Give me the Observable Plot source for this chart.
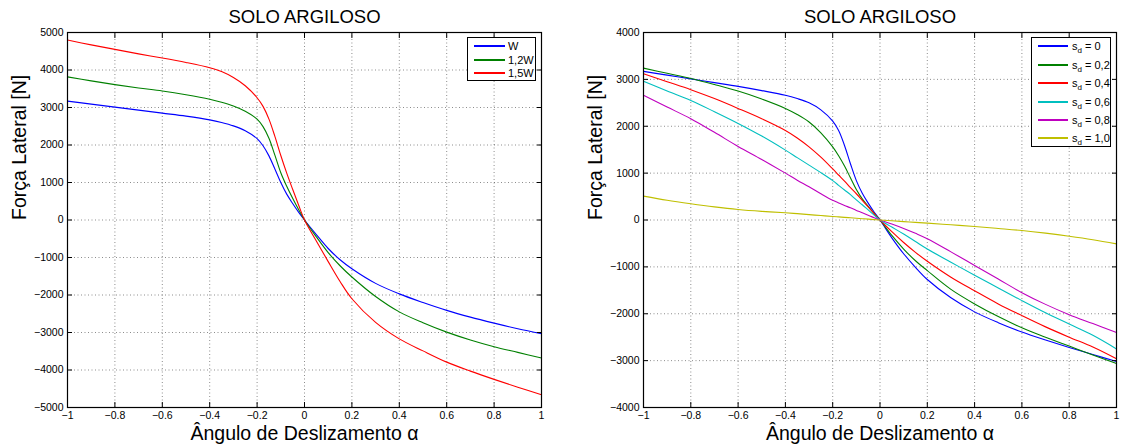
<!DOCTYPE html>
<html>
<head>
<meta charset="utf-8">
<script src="https://cdn.jsdelivr.net/npm/d3@7"></script>
<script src="https://cdn.jsdelivr.net/npm/@observablehq/plot@0.6"></script>
<style>
  body { margin: 0; background: #fff; font-family: "Liberation Sans", Arial, sans-serif; }
  #wrap { position: relative; width: 1121px; height: 448px; overflow: hidden; background: #fff; }
  .panel { position: absolute; top: 0; }
  .legend { position: absolute; border: 1.5px solid #000; background: #fff; box-sizing: border-box;
            font-family: "Liberation Sans", Arial, sans-serif; font-size: 11px; color: #000; }
  .legend .row { position: absolute; left: 0; right: 0; height: 0; }
  .legend .sw { position: absolute; height: 1.5px; top: -1px; }
  .legend .lab { position: absolute; line-height: 12px; top: -6px; white-space: nowrap; }
  .legend sub { font-size: 8px; vertical-align: -3px; line-height: 0; }
</style>
</head>
<body>
<div id="wrap"></div>
<script>
// ---------- data ----------
const alpha = [-1, -0.9, -0.8, -0.7, -0.6, -0.5, -0.4, -0.35, -0.3, -0.25, -0.2, -0.175, -0.15, -0.125,
               -0.1, -0.075, -0.05, -0.025, 0, 0.05, 0.1, 0.15, 0.2, 0.3, 0.4, 0.5, 0.6, 0.7, 0.8, 0.9, 1];

// left panel: load variation
const loadNames = ["W", "1,2W", "1,5W"];
const loadColors = ["#0000ff", "#008000", "#ff0000"];
const forceW   = [3170, 3090, 3010, 2930, 2850, 2770, 2670, 2600, 2510, 2380, 2170, 1980, 1710, 1360,
                  1000, 690, 440, 210, 0, -390, -760, -1060, -1300, -1690, -1970, -2200, -2410, -2590, -2750, -2900, -3030];
const force12W = [3816, 3710, 3610, 3520, 3440, 3340, 3220, 3140, 3040, 2900, 2690, 2490, 2180, 1730,
                  1260, 900, 580, 280, 0, -450, -870, -1220, -1520, -2040, -2450, -2740, -2990, -3200, -3380, -3530, -3680];
const force15W = [4800, 4670, 4550, 4430, 4320, 4200, 4060, 3960, 3800, 3580, 3260, 3030, 2690, 2230,
                  1720, 1250, 820, 400, 0, -560, -1110, -1640, -2100, -2730, -3170, -3490, -3790, -4030, -4250, -4460, -4660];

// right panel: s_d variation
const sdNames = ["0", "0,2", "0,4", "0,6", "0,8", "1,0"];
const sdColors = ["#0000ff", "#008000", "#ff0000", "#00bfbf", "#bf00bf", "#bfbf00"];
const sd00 = [3170, 3090, 3010, 2930, 2850, 2760, 2660, 2590, 2500, 2350, 2110, 1910, 1590, 1200,
              840, 570, 360, 170, 0, -380, -720, -1010, -1270, -1660, -1960, -2190, -2390, -2560, -2720, -2870, -3020];
const sd02 = [3240, 3130, 3020, 2890, 2750, 2580, 2380, 2250, 2090, 1860, 1560, 1370, 1150, 900,
              650, 450, 290, 140, 0, -330, -620, -870, -1080, -1480, -1790, -2060, -2300, -2500, -2690, -2880, -3060];
const sd04 = [3120, 2950, 2780, 2590, 2380, 2160, 1910, 1750, 1560, 1340, 1090, 960, 830, 690,
              560, 420, 280, 140, 0, -250, -480, -690, -880, -1220, -1510, -1790, -2040, -2280, -2500, -2710, -2960];
const sd06 = [2960, 2750, 2550, 2310, 2060, 1790, 1490, 1330, 1170, 1010, 840, 740, 640, 540,
              430, 325, 215, 105, 0, -150, -300, -460, -620, -900, -1180, -1450, -1720, -1980, -2220, -2460, -2750];
const sd08 = [2660, 2410, 2160, 1870, 1570, 1290, 1000, 850, 710, 560, 420, 365, 310, 260,
              205, 155, 100, 50, 0, -85, -180, -285, -400, -680, -970, -1260, -1550, -1800, -2020, -2210, -2400];
const sd10 = [510, 420, 346, 280, 225, 185, 154, 135, 115, 95, 75, 66, 56, 47,
              38, 28, 19, 9, 0, -17, -34, -50, -67, -102, -138, -180, -224, -280, -345, -420, -510];

const xTicks = [-1, -0.8, -0.6, -0.4, -0.2, 0, 0.2, 0.4, 0.6, 0.8, 1];
const yTicksL = [-5000, -4000, -3000, -2000, -1000, 0, 1000, 2000, 3000, 4000, 5000];
const yTicksR = [-4000, -3000, -2000, -1000, 0, 1000, 2000, 3000, 4000];

const titleText = "SOLO ARGILOSO";
const xLabel = "Ângulo de Deslizamento α";
const yLabel = "Força Lateral [N]";

// ---------- drawing ----------
const fmt = d3.format("");
const font = "Liberation Sans, Arial, sans-serif";

function panel({names, colors, series, yDomain, yTicks, width, marginLeft, marginRight}) {
  const rows = series.flatMap((vals, k) => alpha.map((a, i) => ({a, f: vals[i], s: names[k]})));
  const grid = {stroke: "#000", strokeOpacity: 0.45, strokeDasharray: "1,2.5", strokeWidth: 1};
  return Plot.plot({
    width, height: 448,
    marginLeft, marginRight, marginTop: 32, marginBottom: 41,
    x: {domain: [-1, 1], label: null},
    y: {domain: yDomain, label: null},
    color: {domain: names, range: colors},
    style: {fontFamily: font, fontSize: "10.5px", color: "#000", background: "#fff", overflow: "visible"},
    marks: [
      Plot.gridX(xTicks, grid),
      Plot.gridY(yTicks, grid),
      Plot.line(rows, {x: "a", y: "f", z: "s", stroke: "s", curve: "catmull-rom", strokeWidth: 1.1}),
      Plot.axisX(xTicks, {anchor: "bottom", tickSize: -5, tickPadding: 9, tickFormat: fmt, label: null}),
      Plot.axisX(xTicks, {anchor: "top", tickSize: -5, tickFormat: () => "", label: null}),
      Plot.axisY(yTicks, {anchor: "left", tickSize: -5, tickPadding: 9, tickFormat: fmt, label: null}),
      Plot.axisY(yTicks, {anchor: "right", tickSize: -5, tickFormat: () => "", label: null}),
      Plot.frame({stroke: "#000", strokeWidth: 1.2}),
      Plot.text([titleText], {frameAnchor: "top", dy: -10, lineAnchor: "bottom", fontSize: 18.5, fill: "#000"}),
      Plot.text([xLabel], {frameAnchor: "bottom", dy: 32, lineAnchor: "bottom", fontSize: 19.5, fill: "#000"}),
      Plot.text([yLabel], {frameAnchor: "left", dx: -48, rotate: -90, lineAnchor: "middle", fontSize: 19.5, fill: "#000"})
    ]
  });
}

function legend(parent, {left, top, width, height, names, colors, rowTops, swLeft, swWidth, labLeft, sub}) {
  const box = document.createElement("div");
  box.className = "legend";
  Object.assign(box.style, {left: left + "px", top: top + "px", width: width + "px", height: height + "px"});
  names.forEach((n, i) => {
    const row = document.createElement("div");
    row.className = "row";
    row.style.top = rowTops[i] + "px";
    const sw = document.createElement("div");
    sw.className = "sw";
    sw.style.left = swLeft + "px";
    sw.style.width = swWidth + "px";
    sw.style.backgroundColor = colors[i];
    const lab = document.createElement("div");
    lab.className = "lab";
    lab.style.left = labLeft + "px";
    if (sub) lab.innerHTML = "s<sub>d</sub> = " + n; else lab.textContent = n;
    row.appendChild(sw); row.appendChild(lab);
    box.appendChild(row);
  });
  parent.appendChild(box);
}

const wrap = document.getElementById("wrap");

const left = panel({names: loadNames, colors: loadColors, series: [forceW, force12W, force15W],
  yDomain: [-5000, 5000], yTicks: yTicksL, width: 560, marginLeft: 67, marginRight: 19});
left.classList.add("panel"); left.style.left = "0px";
wrap.appendChild(left);

const right = panel({names: sdNames, colors: sdColors, series: [sd00, sd02, sd04, sd06, sd08, sd10],
  yDomain: [-4000, 4000], yTicks: yTicksR, width: 561, marginLeft: 83, marginRight: 5});
right.classList.add("panel"); right.style.left = "560px";
wrap.appendChild(right);

legend(wrap, {left: 467, top: 37, width: 69, height: 44, names: loadNames, colors: loadColors,
  rowTops: [8, 22, 35], swLeft: 6, swWidth: 31, labLeft: 40, sub: false});
legend(wrap, {left: 1031, top: 37, width: 80, height: 110, names: sdNames, colors: sdColors,
  rowTops: [8, 27, 45, 64, 82, 100], swLeft: 6, swWidth: 30, labLeft: 40, sub: true});
</script>
</body>
</html>
